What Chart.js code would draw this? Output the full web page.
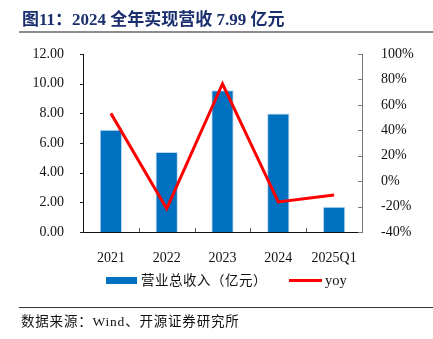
<!DOCTYPE html>
<html>
<head>
<meta charset="utf-8">
<script src="https://cdn.jsdelivr.net/npm/chart.js@4"></script>
<style>
  html, body { margin:0; padding:0; background:#fff; }
  body { width:433px; height:339px; position:relative; overflow:hidden; }
  #wrap { position:absolute; left:0; top:0; width:433px; height:339px; }
  .title { position:absolute; left:22px; top:9px; font-family:"Liberation Serif","Noto Sans CJK SC",serif; font-weight:bold; font-size:17px; color:#1B2F6E; white-space:nowrap; line-height:22px; }
  .tline { position:absolute; left:19px; top:31px; width:414px; height:2px; background:#8c8c8c; }
  .fline { position:absolute; left:19px; top:307px; width:414px; height:1px; background:#333; }
  .source { position:absolute; left:21px; top:312px; font-family:"Liberation Serif","Noto Sans CJK SC",serif; font-size:13.5px; letter-spacing:0.8px; color:#111; white-space:nowrap; line-height:20px; }
  .legend { position:absolute; top:271px; left:0; height:20px; font-family:"Liberation Serif","Noto Sans CJK SC",serif; font-size:13.5px; color:#111; }
  .lg { position:absolute; white-space:nowrap; line-height:20px; }
</style>
</head>
<body>
<div id="wrap"><canvas id="c" width="433" height="339"></canvas></div>
<div class="title">图11：2024 全年实现营收 7.99 亿元</div>
<div class="tline"></div>
<div class="legend">
  <div class="lg" style="left:106px;top:6px;width:31px;height:7px;background:#0070C0;"></div>
  <div class="lg" style="left:141px;top:0;letter-spacing:0.5px;">营业总收入（亿元）</div>
  <div class="lg" style="left:289px;top:8px;width:33px;height:2.5px;background:#FF0000;"></div>
  <div class="lg" style="left:325px;top:-1px;font-size:14.5px;">yoy</div>
</div>
<div class="fline"></div>
<div class="source">数据来源：Wind、开源证券研究所</div>
<script>
const categories = ["2021", "2022", "2023", "2024", "2025Q1"];
const revenue = [6.90, 5.39, 9.55, 7.99, 1.71];
const yoy = [53.3, -21.7, 76.6, -16.4, -10.9];
const leftTicks = [0, 2, 4, 6, 8, 10, 12];
const rightTicks = [-40, -20, 0, 20, 40, 60, 80, 100];

const tickFont = { family: "Liberation Serif", size: 14 };

const tickMarks = {
  id: 'tickMarks',
  afterDraw(chart) {
    const ctx = chart.ctx;
    const xs = chart.scales.x, yl = chart.scales.y, yr = chart.scales.y1;
    ctx.save();
    ctx.lineWidth = 1;
    ctx.strokeStyle = '#222';
    yl.ticks.forEach(t => {
      const y = Math.round(yl.getPixelForValue(t.value)) + 0.5;
      ctx.beginPath(); ctx.moveTo(yl.right - 3, y); ctx.lineTo(yl.right, y); ctx.stroke();
    });
    ctx.strokeStyle = '#777';
    yr.ticks.forEach(t => {
      const y = Math.round(yr.getPixelForValue(t.value)) + 0.5;
      ctx.beginPath(); ctx.moveTo(yr.left - 4, y); ctx.lineTo(yr.left, y); ctx.stroke();
    });
    ctx.strokeStyle = '#555';
    for (let i = 1; i < categories.length; i++) {
      const x = Math.round((xs.getPixelForValue(i - 1) + xs.getPixelForValue(i)) / 2) + 0.5;
      ctx.beginPath(); ctx.moveTo(x, xs.top); ctx.lineTo(x, xs.top - 4); ctx.stroke();
    }
    ctx.restore();
  }
};

new Chart(document.getElementById('c'), {
  data: {
    labels: categories,
    datasets: [
      {
        type: 'line', label: 'yoy', data: yoy, yAxisID: 'y1',
        borderColor: '#FF0000', borderWidth: 3, pointRadius: 0, tension: 0, order: 0
      },
      {
        type: 'bar', label: '营业总收入（亿元）', data: revenue, yAxisID: 'y',
        backgroundColor: '#0070C0', borderColor: '#BDD7EE', borderWidth: {left:1,right:1,top:1,bottom:0},
        barPercentage: 0.5, categoryPercentage: 0.8, order: 1
      }
    ]
  },
  plugins: [tickMarks],
  options: {
    responsive: false, animation: false, devicePixelRatio: 1,
    layout: { padding: { top: 54, left: 0, right: 0, bottom: 0 } },
    plugins: { legend: { display: false }, tooltip: { enabled: false }, title: { display: false } },
    scales: {
      x: {
        type: 'category', offset: true,
        grid: { display: false },
        border: { display: true, color: '#111', width: 1 },
        ticks: { font: tickFont, color: '#111', padding: 10, maxRotation: 0 },
        afterFit(s) { s.height = 107; }
      },
      y: {
        type: 'linear', position: 'left', min: 0, max: 12,
        afterBuildTicks(s) { s.ticks = leftTicks.map(v => ({ value: v })); },
        grid: { display: false },
        border: { display: true, color: '#111', width: 1 },
        ticks: { font: tickFont, color: '#111', padding: 11, callback: v => v.toFixed(2) },
        afterFit(s) { s.width = 83; }
      },
      y1: {
        type: 'linear', position: 'right', min: -40, max: 100,
        afterBuildTicks(s) { s.ticks = rightTicks.map(v => ({ value: v })); },
        grid: { display: false },
        border: { display: true, color: '#777', width: 1 },
        ticks: { font: tickFont, color: '#111', padding: 11, callback: v => v + '%' },
        afterFit(s) { s.width = 71; }
      }
    }
  }
});
</script>
</body>
</html>
